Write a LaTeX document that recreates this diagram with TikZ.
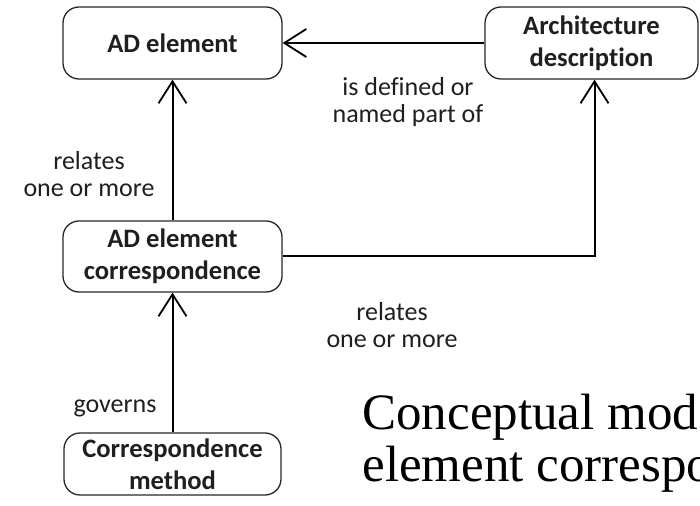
\documentclass[tikz,border=0pt]{standalone}
\usepackage{fontspec}
\setmainfont{Carlito}[Ligatures={NoCommon}]
\newfontfamily\captionfont{Liberation Serif}
\usetikzlibrary{arrows.meta}

\begin{document}
\begin{tikzpicture}[x=0.5pt,y=-0.5pt,
  every node/.style={font=\fontsize{13}{13.5}\selectfont, text=black!88},
  conceptbox/.style={draw=black!85, line width=0.65pt, rounded corners=8pt,
    align=center, font=\fontsize{13.3}{16}\selectfont\bfseries, inner sep=0pt},
  relation/.style={align=center},
  link/.style={draw=black, line width=1pt,
    -{Straight Barb[length=11pt,width=14pt,line width=0.9pt]}}
]
  % canvas
  \useasboundingbox (0,0) rectangle (700,506);
  \clip (0,0) rectangle (700,506);

  % concepts
  \node[conceptbox, minimum width=109.5pt, minimum height=36pt] (adel) at (172.5,43) {AD element};
  \node[conceptbox, minimum width=106.5pt, minimum height=36pt] (arch) at (591.5,43) {Architecture\\description};
  \node[conceptbox, minimum width=109.5pt, minimum height=35.5pt] (corr) at (172.5,256.5) {AD element\\correspondence};
  \node[conceptbox, minimum width=108.5pt, minimum height=31pt] (meth) at (172.5,464) {Correspondence\\method};

  % relations
  \draw[link] (arch.west) -- (adel.east);
  \draw[link] (corr.north) -- (adel.south);
  \draw[link] (corr.east) -| ([xshift=1.5pt]arch.south);
  \draw[link] (meth.north) -- (corr.south);

  % relation labels
  \node[relation] (lbldef) at (408,102) {is defined or\\named part of};
  \node[relation] (lblrel1) at (89,174) {relates\\one or more};
  \node[relation] (lblrel2) at (392,325) {relates\\one or more};
  \node[relation] (lblgov) at (115,408) {governs};

  % caption, running past the right edge
  \node[anchor=base west, align=left, inner sep=0pt,
        font=\captionfont\fontsize{25.5}{25.5}\selectfont, text=black] (caption)
        at (362,481) {Conceptual model of AD\\element correspondence};
\end{tikzpicture}
\end{document}
